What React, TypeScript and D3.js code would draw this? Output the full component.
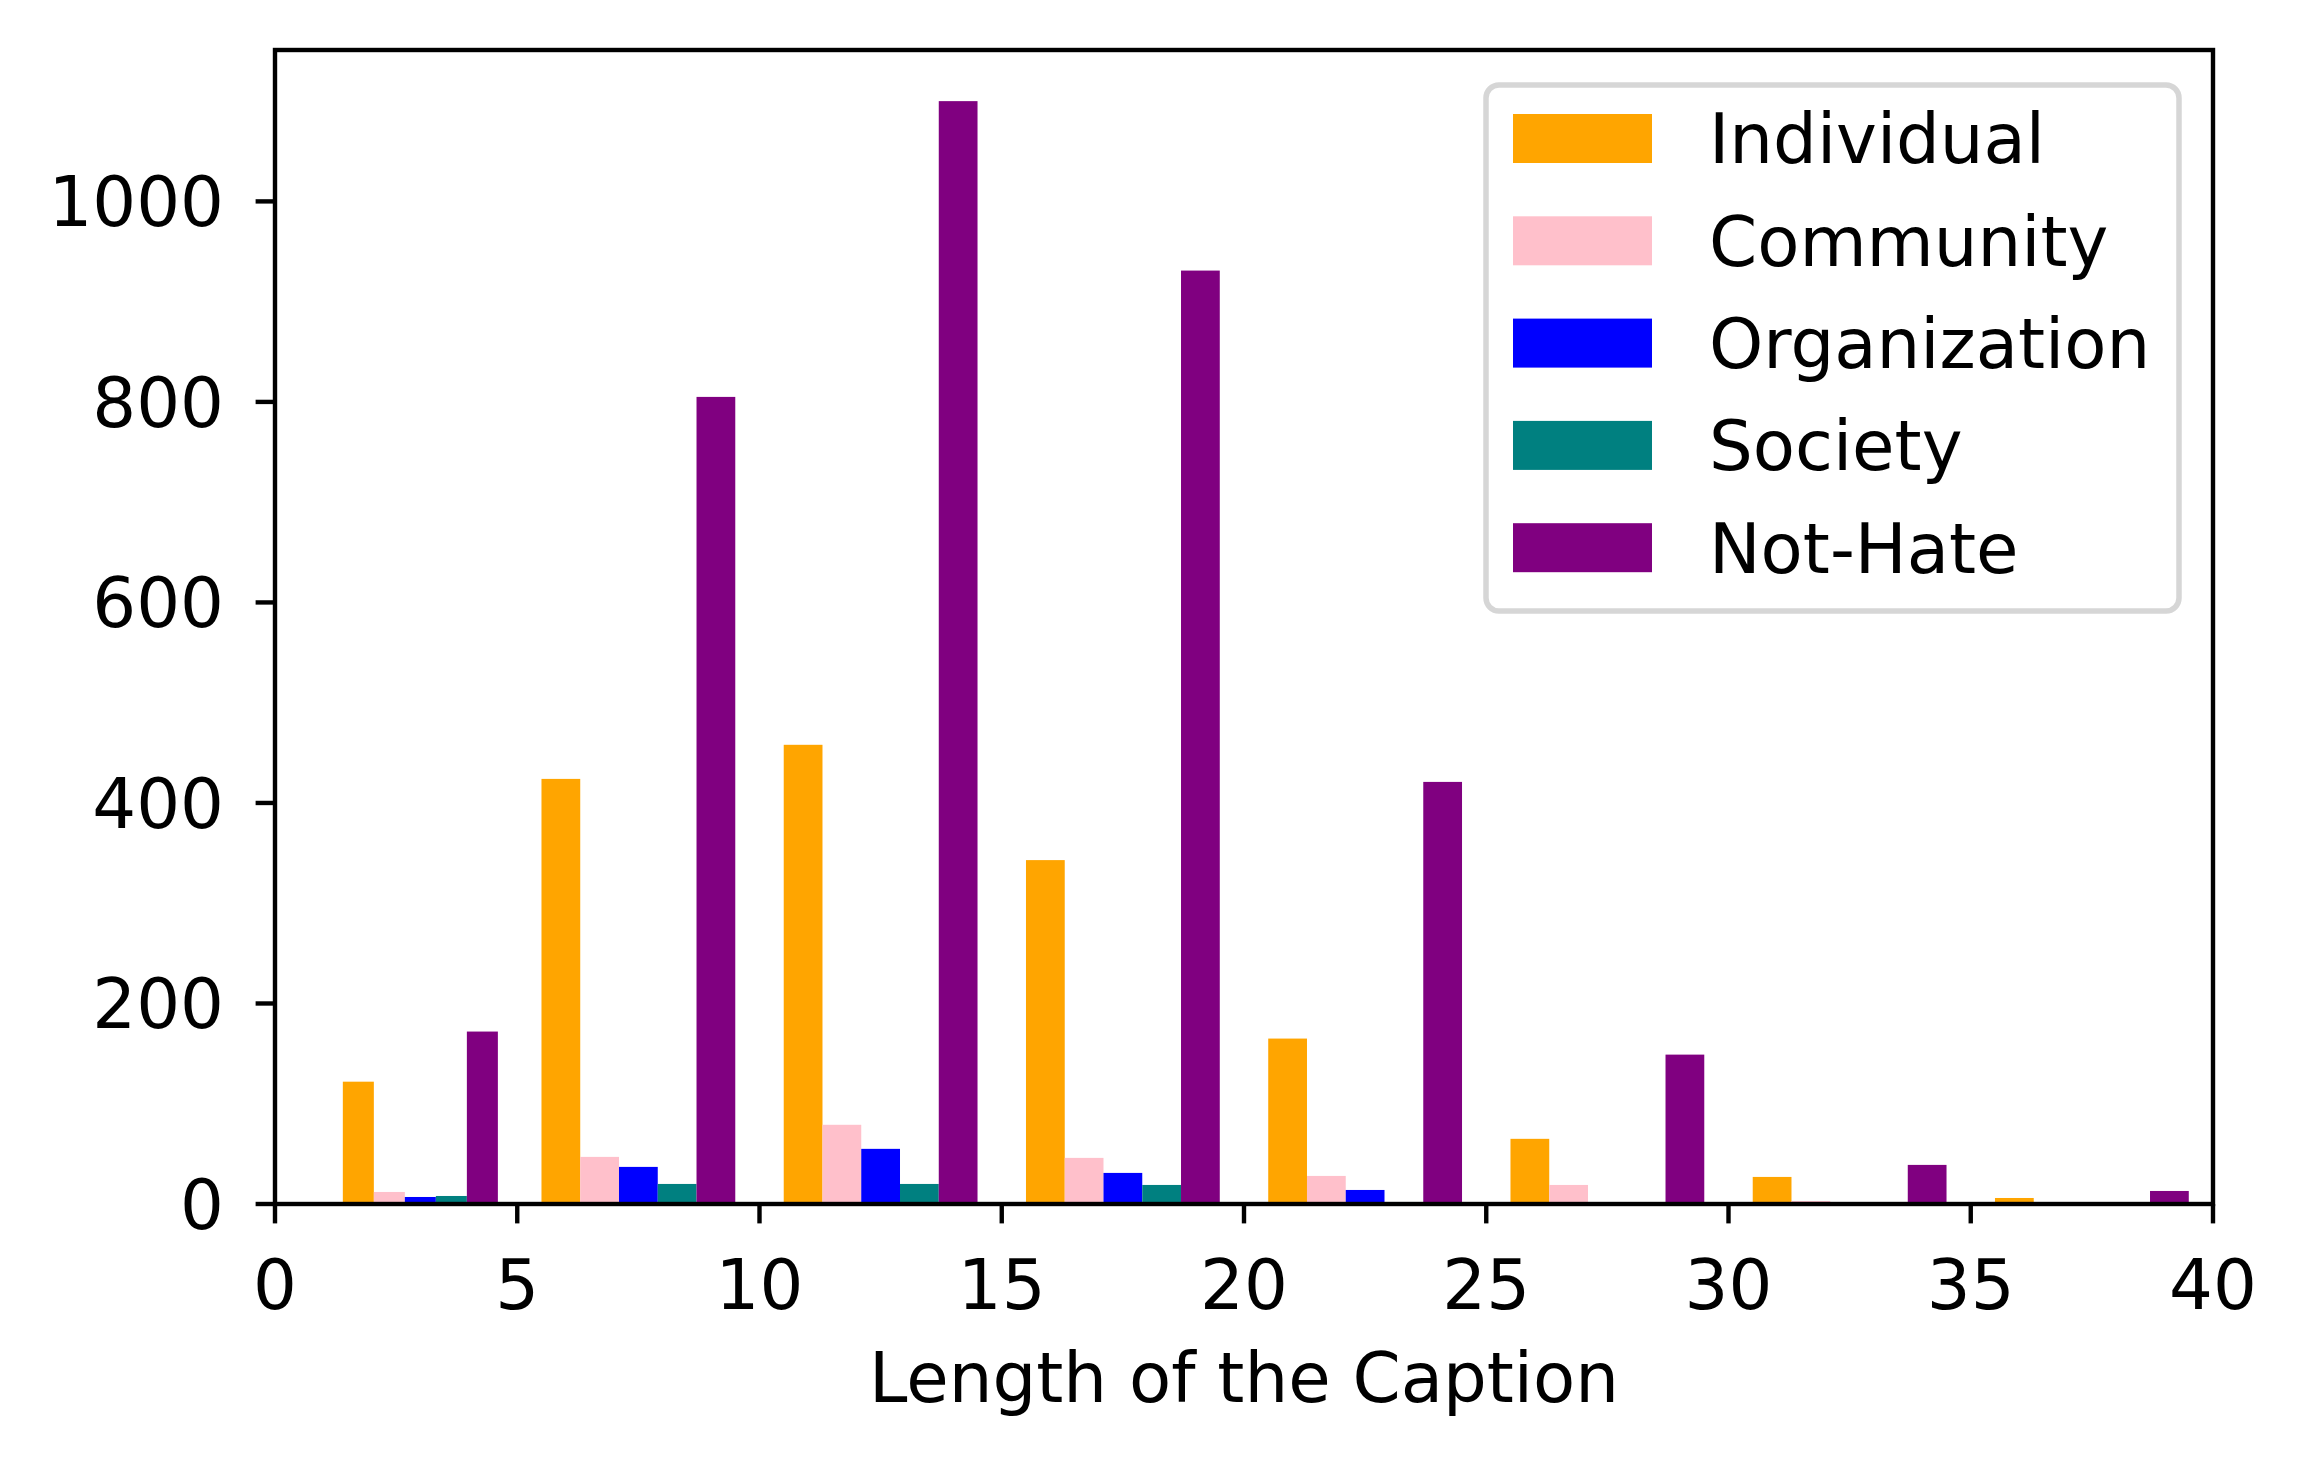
import React, { useEffect, useRef } from 'react';
import * as d3 from 'd3';

// histogram bin edges (first bin is narrower: 1..5)
const binEdges = [1, 5, 10, 15, 20, 25, 30, 35, 40];

const seriesNames = ['Individual', 'Community', 'Organization', 'Society', 'Not-Hate'];
const seriesColors = ['#FFA500', '#FFC0CB', '#0000FF', '#008080', '#800080'];

const individual = [122, 424, 458, 343, 165, 65, 27, 6];
const community = [12, 47, 79, 46, 28, 19, 3, 0];
const organization = [7, 37, 55, 31, 14, 0, 0, 1];
const society = [8, 20, 20, 19, 2, 1, 0, 0];
const notHate = [172, 805, 1100, 931, 421, 149, 39, 13];

const xTicks = [0, 5, 10, 15, 20, 25, 30, 35, 40];
const yTicks = [0, 200, 400, 600, 800, 1000];
const yMax = 1151;

const W = 2307;
const H = 1465;
const FONT = 'DejaVu Sans, sans-serif';

export default function App() {
  const svgRef = useRef<SVGSVGElement>(null);

  useEffect(() => {
    if (!svgRef.current) return;
    const svg = d3.select(svgRef.current);
    svg.selectAll('*').remove();

    const margin = { top: 50, right: W - 2213, bottom: H - 1204, left: 275 };
    const x0 = margin.left;
    const x1 = W - margin.right;
    const y0 = H - margin.bottom;
    const y1 = margin.top;

    const allSeries = [individual, community, organization, society, notHate];

    const x = d3.scaleLinear().domain([0, 40]).range([x0, x1]);
    const y = d3.scaleLinear().domain([0, yMax]).range([y0, y1]);

    svg.append('rect').attr('width', W).attr('height', H).attr('fill', '#fff');

    // bars
    const bars = svg.append('g');
    for (let b = 0; b < binEdges.length - 1; b++) {
      const l = binEdges[b];
      const r = binEdges[b + 1];
      const w = r - l;
      const band = d3
        .scaleBand<string>()
        .domain(seriesNames)
        .range([x(l + 0.1 * w), x(r - 0.1 * w)])
        .padding(0);
      allSeries.forEach((s, j) => {
        const v = s[b];
        if (!v) return;
        bars
          .append('rect')
          .attr('x', band(seriesNames[j]) as number)
          .attr('width', band.bandwidth())
          .attr('y', y(v))
          .attr('height', y(0) - y(v))
          .attr('fill', seriesColors[j]);
      });
    }

    const tickLen = 19.4;
    const fs = 69;

    // x ticks
    const gx = svg.append('g');
    xTicks.forEach((t) => {
      gx.append('line')
        .attr('x1', x(t)).attr('x2', x(t))
        .attr('y1', y0).attr('y2', y0 + tickLen)
        .attr('stroke', '#000').attr('stroke-width', 4.4);
      gx.append('text')
        .attr('x', x(t))
        .attr('y', 1309)
        .attr('text-anchor', 'middle')
        .attr('font-family', FONT)
        .attr('font-size', fs)
        .text(t);
    });

    // y ticks
    const gy = svg.append('g');
    yTicks.forEach((t) => {
      gy.append('line')
        .attr('x1', x0 - tickLen).attr('x2', x0)
        .attr('y1', y(t)).attr('y2', y(t))
        .attr('stroke', '#000').attr('stroke-width', 4.4);
      gy.append('text')
        .attr('x', 224)
        .attr('y', y(t))
        .attr('dy', '0.36em')
        .attr('text-anchor', 'end')
        .attr('font-family', FONT)
        .attr('font-size', fs)
        .text(t);
    });

    // spines
    svg.append('rect')
      .attr('x', x0).attr('y', y1)
      .attr('width', x1 - x0).attr('height', y0 - y1)
      .attr('fill', 'none')
      .attr('stroke', '#000')
      .attr('stroke-width', 4.4)
      .attr('stroke-linejoin', 'miter');

    // x label
    svg.append('text')
      .attr('x', (x0 + x1) / 2)
      .attr('y', 1402)
      .attr('text-anchor', 'middle')
      .attr('font-family', FONT)
      .attr('font-size', fs)
      .text('Length of the Caption');

    // legend
    const legend = svg.append('g');
    legend.append('rect')
      .attr('x', 1486).attr('y', 85)
      .attr('width', 693).attr('height', 526)
      .attr('rx', 13).attr('ry', 13)
      .attr('fill', 'rgba(255,255,255,0.8)')
      .attr('stroke', '#d6d6d6')
      .attr('stroke-width', 5.5);

    seriesNames.forEach((name, i) => {
      const cy = 138.5 + i * 102.3;
      legend.append('rect')
        .attr('x', 1513).attr('y', cy - 24.5)
        .attr('width', 139).attr('height', 49)
        .attr('fill', seriesColors[i]);
      legend.append('text')
        .attr('x', 1709)
        .attr('y', cy)
        .attr('dy', '0.36em')
        .attr('font-family', FONT)
        .attr('font-size', fs)
        .text(name);
    });
  }, []);

  return (
    <svg
      ref={svgRef}
      width={W}
      height={H}
      style={{ position: 'absolute', left: 0, top: 0, display: 'block' }}
    />
  );
}
